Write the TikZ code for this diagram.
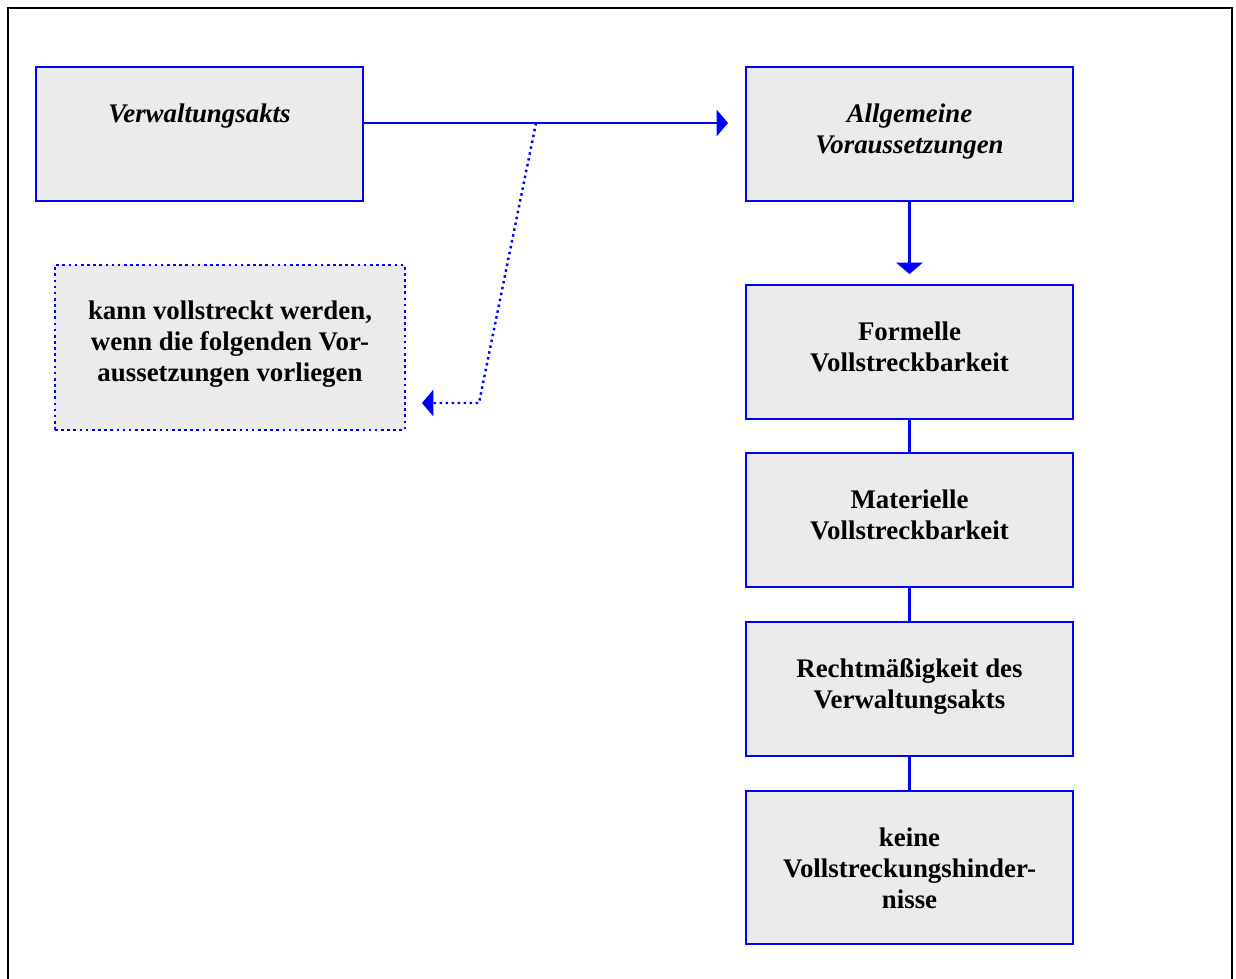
\documentclass[tikz,border=0pt]{standalone}
\usepackage{fontspec}
\setmainfont{Liberation Serif}
\usetikzlibrary{arrows.meta}

\tikzset{
  kasten/.style={draw=blue, line width=1.5pt, fill=black!8, inner sep=0pt, outer sep=0pt,
    minimum width=6.54cm, minimum height=2.68cm},
  schrift/.style={anchor=north, align=center, inner sep=0pt,
    font=\fontsize{15.3}{17.7}\selectfont\bfseries},
  verbinder/.style={color=blue, line width=1.4pt},
  spitze/.style={-{Triangle[length=6.5pt,width=15pt]}},
  punktiert/.style={verbinder, dotted, line width=1.4pt}
}

\begin{document}
\begin{tikzpicture}[x=0.02cm, y=-0.02cm]
      \useasboundingbox (0,0) rectangle (1236,978);

      % outer frame
      \draw[line width=1.3pt] (8,990) -- (8,8) -- (1232,8) -- (1232,990);

      % boxes
      \node[kasten] (akt) at (199.5,134) {};
      \node[kasten] (allg) at (909.5,134) {};
      \node[kasten, dotted, line width=1.4pt, minimum width=7cm, minimum height=3.3cm] (kann) at (230,347.5) {};
      \node[kasten] (formell) at (909.5,352) {};
      \node[kasten] (materiell) at (909.5,520) {};
      \node[kasten] (recht) at (909.5,689) {};
      \node[kasten, minimum height=3.06cm] (keine) at (909.5,867.5) {};

      % texts
      \node[schrift] (akt-t) at ([yshift=-0.72cm]akt.north) {\itshape Verwaltungsakts};
      \node[schrift] (allg-t) at ([yshift=-0.72cm]allg.north) {\itshape Allgemeine\\\itshape Voraussetzungen};
      \node[schrift] (kann-t) at ([yshift=-0.70cm]kann.north) {kann vollstreckt werden,\\wenn die folgenden Vor-\\aussetzungen vorliegen};
      \node[schrift] (formell-t) at ([yshift=-0.72cm]formell.north) {Formelle\\Vollstreckbarkeit};
      \node[schrift] (materiell-t) at ([yshift=-0.72cm]materiell.north) {Materielle\\Vollstreckbarkeit};
      \node[schrift] (recht-t) at ([yshift=-0.72cm]recht.north) {Rechtmäßigkeit des\\Verwaltungsakts};
      \node[schrift] (keine-t) at ([yshift=-0.72cm]keine.north) {keine\\Vollstreckungshinder-\\nisse};

      % connectors
      \coordinate (ab) at (536,123);
      \coordinate (knick) at (479,403);
      \draw[verbinder, spitze] (akt.east |- ab) -- ([xshift=-0.36cm]allg.west |- ab);
      \draw[punktiert, spitze] (ab) -- (knick) -- ([xshift=0.34cm]kann.east |- knick);
      \draw[verbinder, spitze] (allg.south) -- ([yshift=0.22cm]formell.north);
      \draw[verbinder] (formell) -- (materiell);
      \draw[verbinder] (materiell) -- (recht);
      \draw[verbinder] (recht) -- (keine);
    \end{tikzpicture}
\end{document}
